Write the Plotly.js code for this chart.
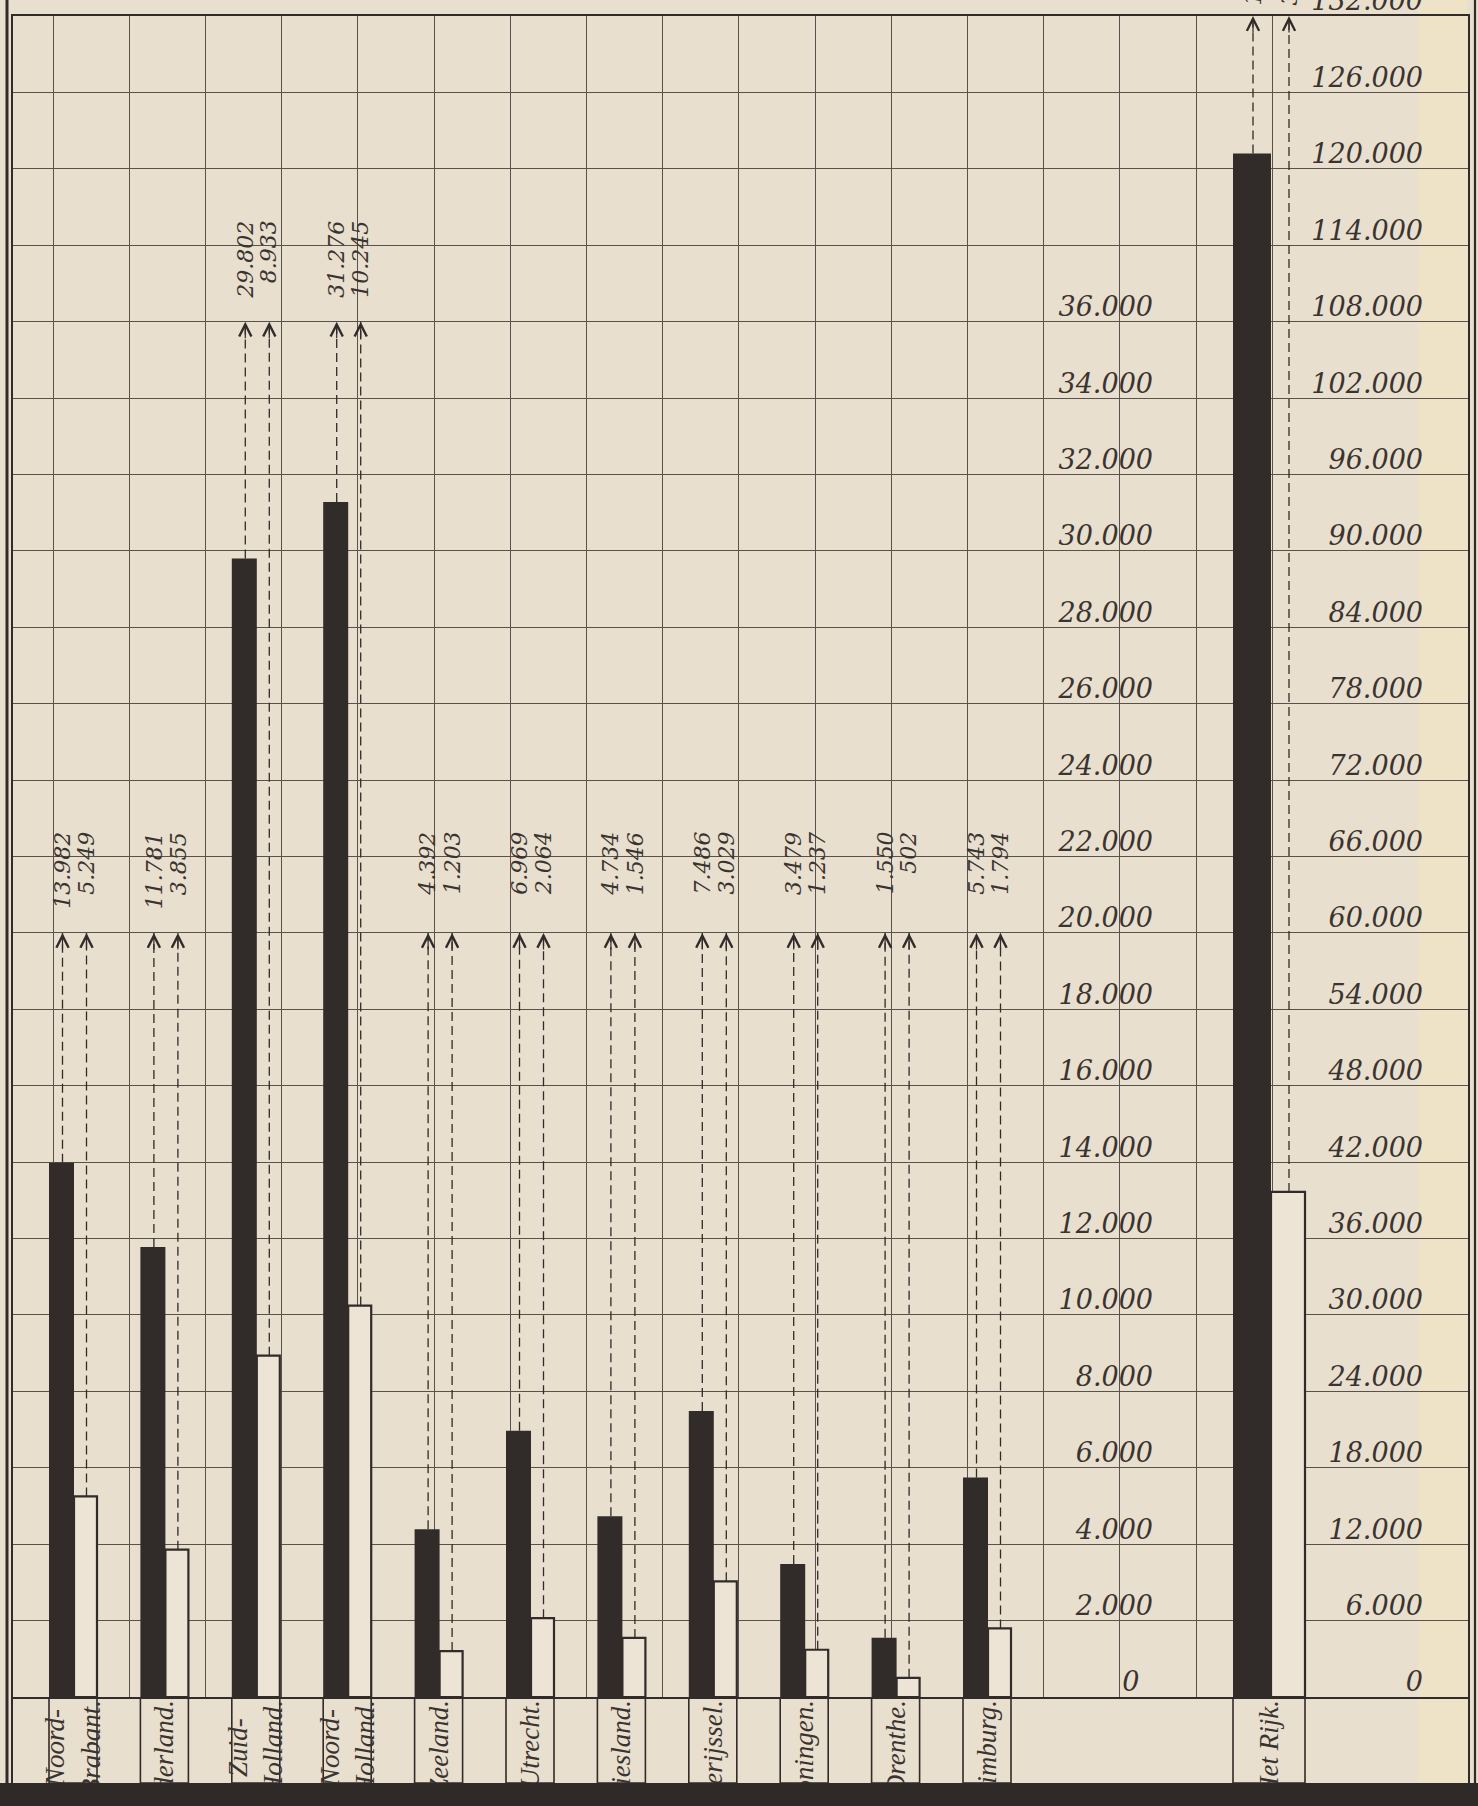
<!DOCTYPE html>
<html><head><meta charset="utf-8">
<script src="https://cdn.plot.ly/plotly-3.0.1.min.js"></script>
<style>html,body{margin:0;padding:0;background:#e9dfce;} #chart{width:1478px;height:1806px;}</style>
</head><body><div id="chart"></div>
<script>
// ---------------- data ----------------
const provinces = ["Noord-<br>Brabant.", "Gelderland.", "Zuid-<br>Holland.", "Noord-<br>Holland.", "Zeeland.", "Utrecht.", "Friesland.", "Overijssel.", "Groningen.", "Drenthe.", "Limburg."];
const totalLabel = "Het Rijk.";
const blackValues = [13982, 11781, 29802, 31276, 4392, 6969, 4734, 7486, 3479, 1550, 5743];
const whiteValues = [5249, 3855, 8933, 10245, 1203, 2064, 1546, 3029, 1237, 502, 1794];
const totalBlack = 121194;
const totalWhite = 39657;
const midTickVals = [0, 2000, 4000, 6000, 8000, 10000, 12000, 14000, 16000, 18000, 20000, 22000, 24000, 26000, 28000, 30000, 32000, 34000, 36000];
const midTickText = ["0\u2002", "2.000", "4.000", "6.000", "8.000", "10.000", "12.000", "14.000", "16.000", "18.000", "20.000", "22.000", "24.000", "26.000", "28.000", "30.000", "32.000", "34.000", "36.000"];
const rightTickVals = [0, 6000, 12000, 18000, 24000, 30000, 36000, 42000, 48000, 54000, 60000, 66000, 72000, 78000, 84000, 90000, 96000, 102000, 108000, 114000, 120000, 126000, 132000];
const rightTickText = ["0", "6.000", "12.000", "18.000", "24.000", "30.000", "36.000", "42.000", "48.000", "54.000", "60.000", "66.000", "72.000", "78.000", "84.000", "90.000", "96.000", "102.000", "108.000", "114.000", "120.000", "126.000", "132.000"];

// ---------------- layout constants ----------------
const W = 1478, H = 1806;
const M = {l: 13, r: 10, t: 16, b: 23};
const plotW = W - M.l - M.r, plotH = H - M.t - M.b;
const baseY = 1697;
const rowFrac = (M.t + plotH - baseY) / plotH;
const slot0 = 74, slotStep = 91.4, totalSlot = 1271;
const slotX = provinces.map((_, i) => slot0 + slotStep * i);
const bw = 25, ww = 23, tbw = 38, tww = 34;
const gridX = Array.from({length: 17}, (_, k) => 53 + 76.2 * k);
const INK = '#312b29', GRID = '#5a514a', PAPER = '#e9dfce';
const numFont = {family: 'DejaVu Serif', style: 'italic', size: 27, color: '#3a3431'};
const valFont = {family: 'DejaVu Serif', style: 'italic', size: 22, color: '#3a3431'};
const nameFont = {family: 'Liberation Serif', style: 'italic', size: 27, color: '#3a3431'};
const fmt = v => String(v).replace(/\B(?=(\d{3})+(?!\d))/g, '.');
const tipFor = v => v > 18000 ? 36000 : 20000;
const px2paperX = p => (p - M.l) / plotW;
const px2paperY = p => (M.t + plotH - p) / plotH;

// ---------------- traces ----------------
const traces = [];
traces.push({type: 'bar', x: slotX, y: blackValues, offset: -bw, width: bw, xaxis: 'x', yaxis: 'y',
  marker: {color: INK, line: {width: 0}}, hoverinfo: 'skip', showlegend: false});
traces.push({type: 'bar', x: slotX, y: whiteValues, offset: 0, width: ww, xaxis: 'x', yaxis: 'y',
  marker: {color: '#ede4d5', line: {color: INK, width: 2.2}}, hoverinfo: 'skip', showlegend: false});
traces.push({type: 'bar', x: [totalSlot], y: [totalBlack], offset: -tbw, width: tbw, xaxis: 'x', yaxis: 'y3',
  marker: {color: INK, line: {width: 0}}, hoverinfo: 'skip', showlegend: false});
traces.push({type: 'bar', x: [totalSlot], y: [totalWhite], offset: 0, width: tww, xaxis: 'x', yaxis: 'y3',
  marker: {color: '#ede4d5', line: {color: INK, width: 2.2}}, hoverinfo: 'skip', showlegend: false});
// empty trace so that the middle scale axis is drawn
traces.push({type: 'scatter', mode: 'lines', x: [], y: [], xaxis: 'x', yaxis: 'y2', hoverinfo: 'skip', showlegend: false});

// dashed guide lines
const dx = [], dy = [];
const annotations = [];
provinces.forEach((_, i) => {
  const tip = tipFor(blackValues[i]);
  const xb = slotX[i] - bw / 2 + 1, xw = slotX[i] + ww / 2 + 1;
  [[xb, blackValues[i]], [xw, whiteValues[i]]].forEach(([xx, v]) => {
    dx.push(xx, xx, null); dy.push(v, tip, null);
    annotations.push({xref: 'x', yref: 'y', x: xx, y: tip, ax: 0, ay: 18, text: '', showarrow: true,
      arrowhead: 5, arrowsize: 2, arrowwidth: 1.2, arrowcolor: INK});
    annotations.push({xref: 'x', yref: 'y', x: xx, y: tip + 2700, text: fmt(v), showarrow: false,
      textangle: -90, xanchor: 'center', yanchor: 'top', font: valFont});
  });
});
traces.push({type: 'scatter', mode: 'lines', x: dx, y: dy, xaxis: 'x', yaxis: 'y',
  line: {color: INK, width: 1.3, dash: '9px,5px'}, hoverinfo: 'skip', showlegend: false});

const tdx = [], tdy = [];
[[totalSlot - tbw / 2 + 1, totalBlack], [totalSlot + tww / 2 + 1, totalWhite]].forEach(([xx, v]) => {
  tdx.push(xx, xx, null); tdy.push(v, 132000, null);
  annotations.push({xref: 'x', yref: 'y3', x: xx, y: 132000, ax: 0, ay: 18, text: '', showarrow: true,
    arrowhead: 5, arrowsize: 2, arrowwidth: 1.2, arrowcolor: INK});
  annotations.push({xref: 'x', yref: 'paper', x: xx, y: 1 + 8 / plotH, text: fmt(v), showarrow: false,
    textangle: -90, xanchor: 'center', yanchor: 'bottom', font: valFont});
});
traces.push({type: 'scatter', mode: 'lines', x: tdx, y: tdy, xaxis: 'x', yaxis: 'y3',
  line: {color: INK, width: 1.3, dash: '9px,5px'}, hoverinfo: 'skip', showlegend: false});

// name row (cells under each pair of bars)
const rowX = slotX.concat([totalSlot]);
traces.push({type: 'bar', x: rowX, y: rowX.map(() => 1), xaxis: 'x2', yaxis: 'y4',
  offset: rowX.map((_, i) => i < provinces.length ? -bw : -tbw),
  width: rowX.map((_, i) => i < provinces.length ? bw + ww : tbw + tww),
  marker: {color: 'rgba(0,0,0,0)', line: {color: INK, width: 1.6}},
  text: provinces.concat([totalLabel]), textposition: 'inside', insidetextanchor: 'end',
  textangle: -90, constraintext: 'none', insidetextfont: nameFont, cliponaxis: true,
  hoverinfo: 'skip', showlegend: false});

// ---------------- layout ----------------
const layout = {
  width: W, height: H, margin: M, paper_bgcolor: PAPER, plot_bgcolor: 'rgba(0,0,0,0)',
  barmode: 'overlay', showlegend: false,
  xaxis: {domain: [0, 1], range: [M.l, W - M.r], anchor: 'y', tickmode: 'array', tickvals: gridX,
    showticklabels: false, ticks: '', showgrid: true, gridcolor: GRID, gridwidth: 1, zeroline: false,
    showline: true, linecolor: INK, linewidth: 2, mirror: true, fixedrange: true},
  yaxis: {domain: [rowFrac, 1], range: [0, 44000], anchor: 'x', tickmode: 'linear', tick0: 0, dtick: 2000,
    showticklabels: false, ticks: '', showgrid: true, gridcolor: GRID, gridwidth: 1, zeroline: false,
    showline: true, linecolor: INK, linewidth: 1.6, mirror: true, fixedrange: true},
  yaxis2: {overlaying: 'y', anchor: 'free', position: px2paperX(1153), side: 'left', range: [0, 44000],
    tickmode: 'array', tickvals: midTickVals, ticktext: midTickText, showgrid: false, zeroline: false,
    showline: false, ticks: '', tickfont: numFont, ticklabelshift: -15, ticklabeloverflow: 'allow', fixedrange: true},
  yaxis3: {overlaying: 'y', anchor: 'free', position: px2paperX(1423), side: 'left', range: [0, 132000],
    tickmode: 'array', tickvals: rightTickVals, ticktext: rightTickText, showgrid: false, zeroline: false,
    showline: false, ticks: '', tickfont: numFont, ticklabelshift: -15, ticklabeloverflow: 'allow', fixedrange: true},
  xaxis2: {domain: [0, 1], range: [M.l, W - M.r], anchor: 'y4', showgrid: false, showticklabels: false,
    ticks: '', zeroline: false, showline: false, fixedrange: true},
  yaxis4: {domain: [0, rowFrac], range: [0, 1], anchor: 'x2', showgrid: false, showticklabels: false,
    ticks: '', zeroline: false, showline: true, mirror: true, linecolor: INK, linewidth: 1.6, fixedrange: true},
  annotations: annotations,
  shapes: [
    // slightly yellower paper tone at the right edge
    {type: 'rect', xref: 'paper', yref: 'paper', x0: px2paperX(1418), x1: px2paperX(1467), y0: 0, y1: 1.02,
      fillcolor: '#eee3c6', line: {width: 0}, layer: 'below'},
    // outer frame lines
    {type: 'line', xref: 'paper', yref: 'paper', x0: px2paperX(7), x1: px2paperX(7), y0: 0, y1: 1.02,
      line: {color: INK, width: 3}},
    {type: 'line', xref: 'paper', yref: 'paper', x0: px2paperX(1475), x1: px2paperX(1475), y0: 0, y1: 1.02,
      line: {color: INK, width: 2.2}},
    // dark scan background strip at the bottom
    {type: 'rect', xref: 'paper', yref: 'paper', x0: -0.02, x1: 1.02, y0: px2paperY(H + 5), y1: px2paperY(1783),
      fillcolor: '#2f2a28', line: {width: 0}, layer: 'above'}
  ]
};

Plotly.newPlot('chart', traces, layout, {staticPlot: true, displayModeBar: false});
</script>
</body></html>
